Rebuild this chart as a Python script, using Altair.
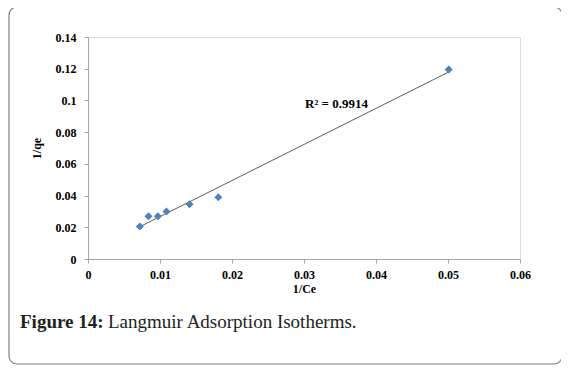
import altair as alt
import pandas as pd

inv_ce = [0.0072, 0.0084, 0.0097, 0.0109, 0.0141, 0.0181, 0.0501]
inv_qe = [0.0205, 0.0270, 0.0270, 0.0300, 0.0345, 0.0390, 0.1195]
x_ticks = [0, 0.01, 0.02, 0.03, 0.04, 0.05, 0.06]
y_ticks = [0, 0.02, 0.04, 0.06, 0.08, 0.1, 0.12, 0.14]
r2_label = "R² = 0.9914"
caption_bold = "Figure 14:"
caption_rest = "Langmuir Adsorption Isotherms."

df = pd.DataFrame({"x": inv_ce, "y": inv_qe})

W, H = 432, 222
serif = "Liberation Serif"

xs = alt.Scale(domain=[0, 0.06], nice=False)
ys = alt.Scale(domain=[0, 0.14], nice=False)

x_axis = alt.Axis(
    values=x_ticks, title="1/Ce", format="~g", grid=False,
    labelFont=serif, labelFontWeight="bold", labelFontSize=12, labelColor="#000",
    titleFont=serif, titleFontWeight="bold", titleFontSize=12, titleColor="#000",
    titlePadding=3, labelPadding=6, labelOverlap=False, labelBound=False, labelFlush=False,
    domainColor="#a6a6a6", tickColor="#a6a6a6", tickSize=4)
y_axis = alt.Axis(
    values=y_ticks, title="1/qe", format="~g", grid=False,
    labelFont=serif, labelFontWeight="bold", labelFontSize=12, labelColor="#000",
    titleFont=serif, titleFontWeight="bold", titleFontSize=12, titleColor="#000",
    titlePadding=12, labelPadding=8, labelOverlap=False, labelBound=False, labelFlush=False,
    domainColor="#a6a6a6", tickColor="#a6a6a6", tickSize=4)

base = alt.Chart(df)

points = base.mark_point(shape="diamond", filled=True, color="#4F81BD", size=65, opacity=1).encode(
    x=alt.X("x:Q", scale=xs, axis=x_axis),
    y=alt.Y("y:Q", scale=ys, axis=y_axis),
)

trend = base.transform_regression("x", "y").mark_line(color="#333333", strokeWidth=0.8).encode(
    x=alt.X("x:Q", scale=xs, axis=x_axis), y=alt.Y("y:Q", scale=ys, axis=y_axis))

r2 = alt.Chart(pd.DataFrame({"t": [r2_label]})).mark_text(
    font=serif, fontWeight="bold", fontSize=13, align="left", baseline="middle", color="#000"
).encode(text="t:N", x=alt.value(217), y=alt.value(67))

frame = alt.Chart(pd.DataFrame({"a": [0]})).mark_rect(
    fill=None, stroke="#7f7f7f", strokeWidth=1.2, cornerRadius=8
).encode(x=alt.value(-79), x2=alt.value(474), y=alt.value(-30), y2=alt.value(327))

cap1 = alt.Chart(pd.DataFrame({"t": [caption_bold]})).mark_text(
    font=serif, fontWeight="bold", fontSize=19, align="left", baseline="alphabetic", color="#222"
).encode(text="t:N", x=alt.value(-68), y=alt.value(291))

cap2 = alt.Chart(pd.DataFrame({"t": [caption_rest]})).mark_text(
    font=serif, fontSize=19, align="left", baseline="alphabetic", color="#222"
).encode(text="t:N", x=alt.value(20), y=alt.value(291))

chart = alt.layer(frame, trend, points, r2, cap1, cap2).properties(
    width=W, height=H,
    autosize=alt.AutoSizeParams(type="none"),
    padding={"left": 80, "top": 29, "right": 41, "bottom": 106},
).configure_view(stroke=None).configure_axis(labelOverlap=False).configure(background="white")

chart.save("out.html", embed_options={"renderer": "svg", "actions": False})
